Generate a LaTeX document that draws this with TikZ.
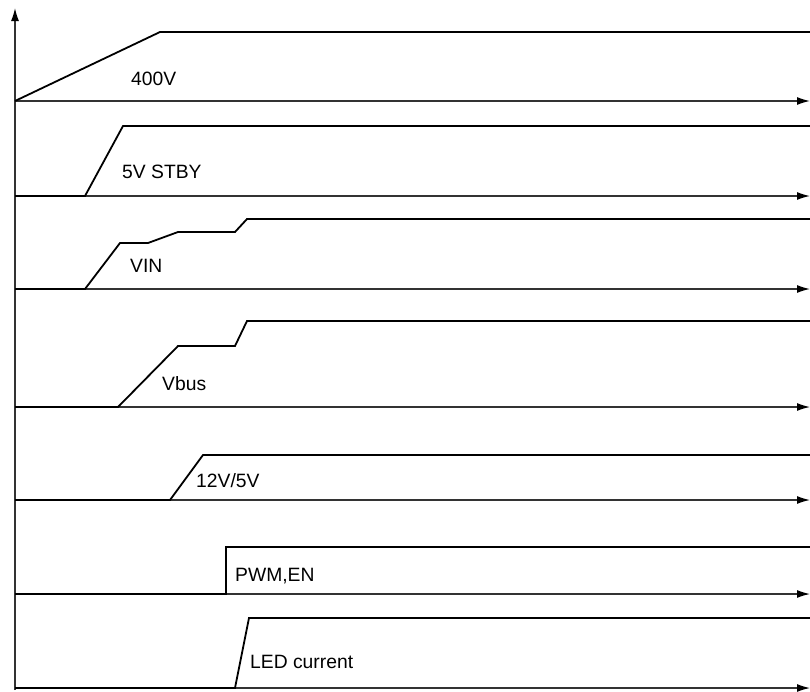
\documentclass[tikz,border=0pt]{standalone}
\usepackage{fontspec}
\setmainfont{Liberation Sans}
\usetikzlibrary{arrows.meta}
\begin{document}
\begin{tikzpicture}[x=1pt, y=-1pt, >={Latex[length=13pt,width=8pt,black]},
    timeaxis/.style={line width=1.3pt, black!80},
    signal/.style={line width=1.8pt, line join=miter},
    lbl/.style={anchor=base west, inner sep=0pt, font=\fontsize{19.3}{23}\selectfont}]
    \useasboundingbox (0,0) rectangle (810,691);

    % vertical axis
    \draw[timeaxis,->] (15,690) -- (15,8);

    % 400V
    \draw[timeaxis,->] (15,101) -- (810,101);
    \draw[signal] (15,101) -- (160,32) -- (810,32);
    \node[lbl] (v400) at (131,85) {400V};

    % 5V STBY
    \draw[timeaxis,->] (15,196) -- (810,196);
    \draw[signal] (15,196) -- (85,196) -- (123,126) -- (810,126);
    \node[lbl] (stby) at (122,178) {5V STBY};

    % VIN
    \draw[timeaxis,->] (15,289) -- (810,289);
    \draw[signal] (15,289) -- (85,289) -- (120,243) -- (148,243) -- (178,232)
        -- (235,232) -- (247,219) -- (810,219);
    \node[lbl] (vin) at (130,272) {VIN};

    % Vbus
    \draw[timeaxis,->] (15,407) -- (810,407);
    \draw[signal] (15,407) -- (118,407) -- (178,346) -- (235,346) -- (247,321) -- (810,321);
    \node[lbl] (vbus) at (162,390) {Vbus};

    % 12V/5V
    \draw[timeaxis,->] (15,500) -- (810,500);
    \draw[signal] (15,500) -- (170,500) -- (203,455) -- (810,455);
    \node[lbl] (v12) at (196,487) {12V/5V};

    % PWM,EN
    \draw[timeaxis,->] (15,594) -- (810,594);
    \draw[signal] (15,594) -- (226,594) -- (226,547) -- (810,547);
    \node[lbl] (pwm) at (235,581) {PWM,EN};

    % LED current
    \draw[timeaxis,->] (15,688) -- (810,688);
    \draw[signal] (15,688) -- (235,688) -- (249,618) -- (810,618);
    \node[lbl] (led) at (250,668) {LED current};
\end{tikzpicture}
\end{document}
